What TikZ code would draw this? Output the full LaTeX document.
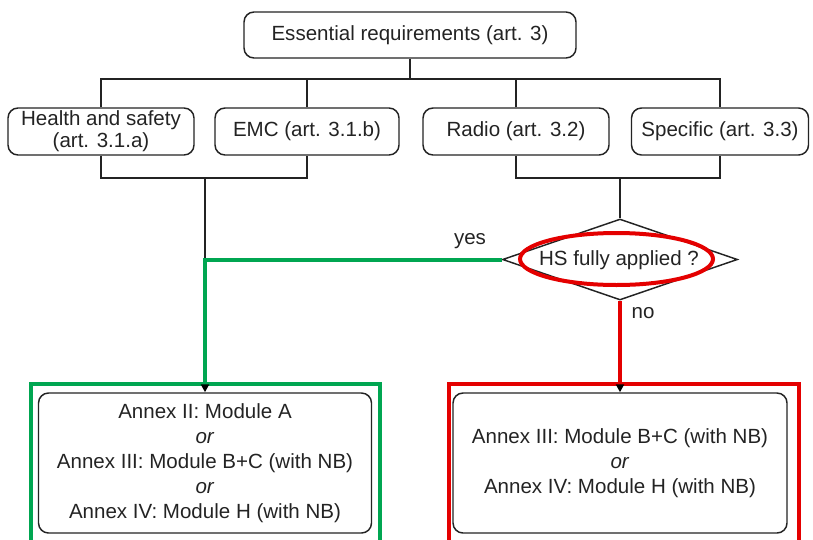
\documentclass[tikz,border=0pt]{standalone}
\usepackage{fontspec}
\setmainfont{Liberation Sans}
\usetikzlibrary{shapes.geometric,arrows.meta}
\definecolor{gframe}{RGB}{0,166,81}
\definecolor{rframe}{RGB}{228,0,0}
\definecolor{ink}{RGB}{35,35,35}
\begin{document}
\begin{tikzpicture}[x=0.75pt,y=-0.75pt,
  every node/.style={font=\fontsize{15.4pt}{18.75pt}\selectfont, text=ink},
  box/.style={draw=ink, line width=1.1pt, rounded corners=7.5pt, inner sep=0pt, align=center, minimum height=35.25pt},
  conn/.style={draw=ink, line width=1pt},
  gline/.style={draw=gframe, line width=3pt},
  rline/.style={draw=rframe, line width=3pt},
  tip/.style={-{Triangle[color=black,length=6pt,width=6pt]}},
  frame/.style={line width=3pt}]
\useasboundingbox (0,0) rectangle (813,539);
\clip (0,0) rectangle (813,539);
% top
\node[box, minimum width=249pt, minimum height=34.5pt] (top) at (410,35) {Essential requirements (art. 3)};
% second row
\node[box, minimum width=139.5pt, font=\fontsize{15.4pt}{16.5pt}\selectfont] (hs) at (101,131.5) {Health and safety\\(art. 3.1.a)};
\node[box, minimum width=138pt] (emc) at (307,131.5) {EMC (art. 3.1.b)};
\node[box, minimum width=139.5pt] (radio) at (516,131.5) {Radio (art. 3.2)};
\node[box, minimum width=132.75pt] (spec) at (720,131.5) {Specific (art. 3.3)};
% bus coordinates
\coordinate (bus) at (0,79);
\coordinate (low) at (0,178);
\coordinate (j1) at (205,178);
\coordinate (j2) at (620,178);
% decision
\node[diamond, draw=ink, line width=1.1pt, inner sep=0pt, minimum width=176.25pt, minimum height=60.75pt] (dec) at (620,259.5) {};
\node[ellipse, draw=rframe, line width=3pt, inner sep=0pt, minimum width=144.75pt, minimum height=39pt] (ring) at (616.5,259) {};
\node (hsq) at (619,260) {HS fully applied ?};
% result boxes
\node[box, minimum width=249.75pt, minimum height=105pt] (left) at (205,463) {Annex II: Module A\\\textit{or}\\Annex III: Module B+C (with NB)\\\textit{or}\\Annex IV: Module H (with NB)};
\node[box, minimum width=250.5pt, minimum height=105pt] (right) at (620,463) {Annex III: Module B+C (with NB)\\\textit{or}\\Annex IV: Module H (with NB)};
% frames
\draw[frame, draw=gframe] (31,560) -- (31,384) -- (380,384) -- (380,560);
\draw[frame, draw=rframe] (449,560) -- (449,384) -- (799,384) -- (799,560);
% connectors
\draw[conn] (hs.north) -- (hs.north |- bus) -- (spec.north |- bus) -- (spec.north);
\draw[conn] (top.south) -- (top.south |- bus);
\draw[conn] (emc.north) -- (emc.north |- bus);
\draw[conn] (radio.north) -- (radio.north |- bus);
\draw[conn] (hs.south) -- (hs.south |- low) -- (emc.south |- low) -- (emc.south);
\draw[conn] (radio.south) -- (radio.south |- low) -- (spec.south |- low) -- (spec.south);
\draw[conn] (j2) -- (dec.north);
\draw[conn] (j1) -- (j1 |- dec.west);
\draw[gline, tip] (dec.west) -- (dec.west -| j1) -- (left.north);
\draw[rline, tip] (dec.south) -- (right.north);
% labels
\node (yes) at (470,241) {yes};
\node (no) at (643,313) {no};
\end{tikzpicture}
\end{document}
